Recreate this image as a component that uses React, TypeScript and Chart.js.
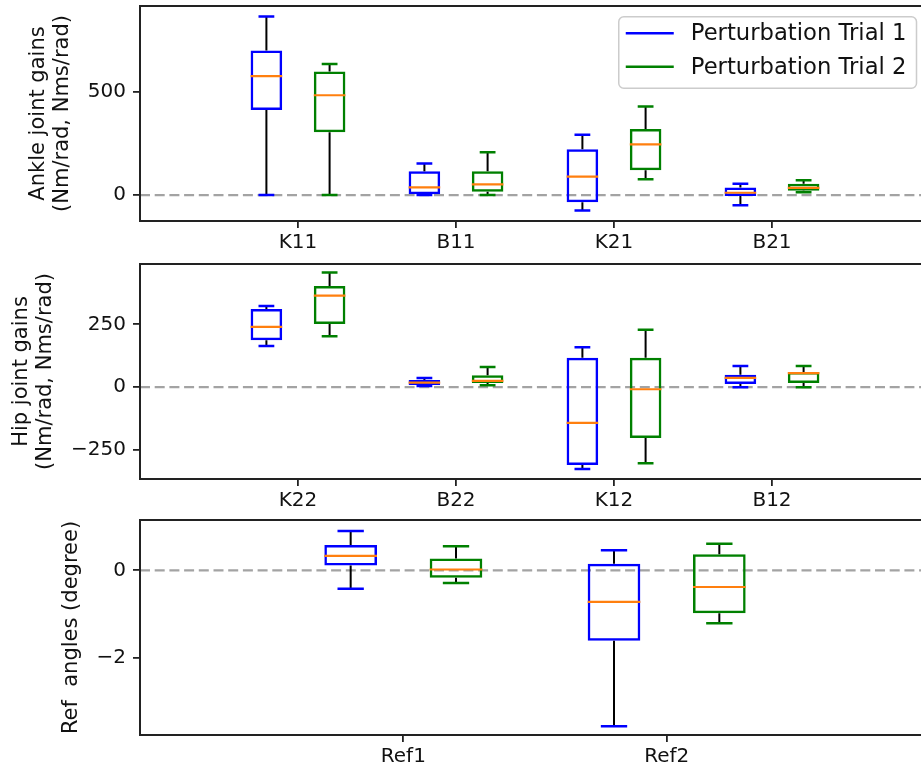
import React, { useEffect, useRef } from 'react';
import { Chart, registerables } from 'chart.js';

Chart.register(...registerables);

const FONT = '"DejaVu Sans", "Liberation Sans", sans-serif';

const seriesNames = ['Perturbation Trial 1', 'Perturbation Trial 2'];
const seriesColors = ['#0000ff', '#008000'];
const medianColor = '#ff7f0e';

// each box: [lower whisker, q1, median, q3, upper whisker]
const ankleCategories = ['K11', 'B11', 'K21', 'B21'];
const ankleTrial1 = [
  [0, 413, 577, 701, 866],
  [0, 0, 37, 115, 153],
  [-75, -35, 89, 222, 293],
  [-50, -5, 11, 37, 55],
];
const ankleTrial2 = [
  [0, 304, 484, 599, 636],
  [0, 16, 52, 115, 207],
  [76, 120, 246, 320, 429],
  [13, 21, 35, 55, 72],
];
const ankleTicks = [0, 500];
const ankleRange = [-126, 917];

const hipCategories = ['K22', 'B22', 'K12', 'B12'];
const hipTrial1 = [
  [164, 187, 240, 311, 323],
  [5, 9, 18, 29, 37],
  [-325, -309, -142, 117, 159],
  [0, 13, 37, 50, 84],
];
const hipTrial2 = [
  [203, 251, 364, 403, 456],
  [8, 17, 25, 48, 80],
  [-302, -202, -8, 117, 229],
  [0, 17, 56, 61, 84],
];
const hipTicks = [-250, 0, 250];
const hipRange = [-365, 490];

const refCategories = ['Ref1', 'Ref2'];
const refTrial1 = [
  [-0.42, 0.11, 0.33, 0.58, 0.9],
  [-3.56, -1.61, -0.72, 0.15, 0.46],
];
const refTrial2 = [
  [-0.29, -0.17, 0.02, 0.27, 0.55],
  [-1.21, -0.98, -0.38, 0.37, 0.61],
];
const refTicks = [-2, 0];
const refRange = [-3.76, 1.15];

const panels = [
  {
    key: 'ankle',
    categories: ankleCategories,
    trials: [ankleTrial1, ankleTrial2],
    ticks: ankleTicks,
    range: ankleRange,
    title: ['Ankle joint gains', '(Nm/rad, Nms/rad)'],
    top: 0,
    height: 255,
    padTop: 6,
    padLeft: 26,
    legend: true,
  },
  {
    key: 'hip',
    categories: hipCategories,
    trials: [hipTrial1, hipTrial2],
    ticks: hipTicks,
    range: hipRange,
    title: ['Hip joint gains', '(Nm/rad, Nms/rad)'],
    top: 255,
    height: 258,
    padTop: 9,
    padLeft: 9,
    legend: false,
  },
  {
    key: 'ref',
    categories: refCategories,
    trials: [refTrial1, refTrial2],
    ticks: refTicks,
    range: refRange,
    title: 'Ref  angles (degree)',
    top: 513,
    height: 256,
    padTop: 7,
    padLeft: 59,
    legend: false,
  },
];

const AXIS_LEFT = 140;
const CANVAS_W = 940;

const boxPlugin = {
  id: 'boxExtras',
  beforeDatasetsDraw(chart: any) {
    const { ctx, chartArea, scales } = chart;
    const y0 = scales.y.getPixelForValue(0);
    ctx.save();
    ctx.strokeStyle = '#a3a3a3';
    ctx.lineWidth = 2.2;
    ctx.setLineDash([10, 4.7]);
    ctx.beginPath();
    ctx.moveTo(chartArea.left, y0);
    ctx.lineTo(chartArea.right, y0);
    ctx.stroke();
    ctx.restore();
  },
  afterDatasetsDraw(chart: any) {
    const { ctx, scales } = chart;
    const ys = scales.y;
    chart.data.datasets.forEach((ds: any, i: number) => {
      const meta = chart.getDatasetMeta(i);
      meta.data.forEach((el: any, j: number) => {
        const s = ds.stats[j];
        if (!s) return;
        const { x, width } = el.getProps(['x', 'width'], true);
        const half = width / 2;
        const py = s.map((v: number) => ys.getPixelForValue(v));
        ctx.save();
        ctx.lineCap = 'butt';
        ctx.lineWidth = 2;
        ctx.strokeStyle = '#000';
        ctx.beginPath();
        ctx.moveTo(x, py[1]);
        ctx.lineTo(x, py[0]);
        ctx.moveTo(x, py[3]);
        ctx.lineTo(x, py[4]);
        ctx.stroke();
        ctx.lineWidth = 2.5;
        ctx.strokeStyle = ds.borderColor;
        ctx.beginPath();
        ctx.moveTo(x - half / 2, py[0]);
        ctx.lineTo(x + half / 2, py[0]);
        ctx.moveTo(x - half / 2, py[4]);
        ctx.lineTo(x + half / 2, py[4]);
        ctx.stroke();
        ctx.lineWidth = 2.2;
        ctx.strokeStyle = medianColor;
        ctx.beginPath();
        ctx.moveTo(x - half, py[2]);
        ctx.lineTo(x + half, py[2]);
        ctx.stroke();
        ctx.restore();
      });
    });
  },
  afterDraw(chart: any, _args: any, opts: any) {
    const { ctx, chartArea } = chart;
    ctx.save();
    ctx.strokeStyle = '#222';
    ctx.lineWidth = 2;
    ctx.strokeRect(chartArea.left, chartArea.top, chartArea.right - chartArea.left, chartArea.bottom - chartArea.top);
    ctx.restore();

    if (opts && opts.legend) {
      const fs = 22.7;
      ctx.save();
      ctx.font = `${fs}px ${FONT}`;
      const labels = chart.data.datasets.map((d: any) => d.label);
      const textW = Math.max(...labels.map((l: string) => ctx.measureText(l).width));
      const padL = 7;
      const handle = 48;
      const gap = 17;
      const padR = 10;
      const rowH = 33.4;
      const w = padL + handle + gap + textW + padR;
      const h = 71.6;
      const right = chartArea.right - 13.5;
      const left = right - w;
      const top = chartArea.top + 10.7;
      ctx.beginPath();
      ctx.roundRect(left, top, w, h, 5);
      ctx.fillStyle = 'rgba(255,255,255,0.8)';
      ctx.fill();
      ctx.strokeStyle = '#cccccc';
      ctx.lineWidth = 1.5;
      ctx.stroke();
      chart.data.datasets.forEach((d: any, i: number) => {
        const y = top + 16.6 + i * rowH;
        ctx.strokeStyle = d.borderColor;
        ctx.lineWidth = 2.5;
        ctx.beginPath();
        ctx.moveTo(left + padL, y);
        ctx.lineTo(left + padL + handle, y);
        ctx.stroke();
        ctx.fillStyle = '#111';
        ctx.textBaseline = 'middle';
        ctx.textAlign = 'left';
        ctx.fillText(d.label, left + padL + handle + gap, y + 1);
      });
      ctx.restore();
    }
  },
};

function buildConfig(p: any): any {
  const labels = ['', ...p.categories, ''];
  const gridOpts = {
    display: true,
    offset: false,
    drawOnChartArea: false,
    drawTicks: true,
    tickLength: 7,
    color: '#222',
    lineWidth: 1.8,
  };
  return {
    type: 'bar',
    data: {
      labels,
      datasets: p.trials.map((t: number[][], i: number) => ({
        label: seriesNames[i],
        data: [null, ...t.map((s) => [s[1], s[3]]), null],
        stats: [null, ...t, null],
        borderColor: seriesColors[i],
        backgroundColor: 'rgba(0,0,0,0)',
        borderWidth: 2.5,
        borderSkipped: false,
        categoryPercentage: 0.8,
        barPercentage: 0.5,
      })),
    },
    options: {
      responsive: false,
      animation: false,
      events: [],
      layout: { padding: { top: p.padTop, left: p.padLeft, right: 10, bottom: 0 } },
      plugins: {
        legend: { display: false },
        tooltip: { enabled: false },
        boxExtras: { legend: p.legend },
      },
      scales: {
        x: {
          type: 'category',
          offset: false,
          grid: gridOpts,
          border: { display: false },
          ticks: {
            autoSkip: false,
            maxRotation: 0,
            minRotation: 0,
            padding: 3,
            color: '#111',
            font: { family: FONT, size: 20, lineHeight: 1.2 },
          },
          afterBuildTicks: (s: any) => {
            s.ticks = s.ticks.filter((t: any) => t.value > 0 && t.value < labels.length - 1);
          },
          afterFit: (s: any) => {
            s.height = 34;
            s.paddingLeft = 0;
            s.paddingRight = 0;
          },
        },
        y: {
          type: 'linear',
          min: p.range[0],
          max: p.range[1],
          grid: gridOpts,
          border: { display: false },
          ticks: {
            padding: 7,
            color: '#111',
            font: { family: FONT, size: 20, lineHeight: 1.2 },
            callback: (v: number) => String(v).replace('-', '\u2212'),
          },
          afterBuildTicks: (s: any) => {
            s.ticks = p.ticks.map((v: number) => ({ value: v }));
          },
          afterFit: (s: any) => {
            s.width = AXIS_LEFT - p.padLeft;
            s.paddingTop = 0;
            s.paddingBottom = 0;
          },
          title: {
            display: true,
            text: p.title,
            color: '#111',
            padding: 0,
            font: { family: FONT, size: 21, lineHeight: 1.15 },
          },
        },
      },
    },
    plugins: [boxPlugin],
  };
}

function BoxPanel({ p }: { p: any }) {
  const ref = useRef<HTMLCanvasElement>(null);
  useEffect(() => {
    const chart = new Chart(ref.current as HTMLCanvasElement, buildConfig(p));
    return () => chart.destroy();
  }, [p]);
  return (
    <canvas
      ref={ref}
      width={CANVAS_W}
      height={p.height}
      style={{ position: 'absolute', left: 0, top: p.top, display: 'block', width: CANVAS_W, height: p.height }}
    />
  );
}

export default function App() {
  return (
    <div
      style={{
        position: 'absolute',
        left: 0,
        top: 0,
        width: 921,
        height: 771,
        overflow: 'hidden',
        background: '#fff',
      }}
    >
      {panels.map((p) => (
        <BoxPanel key={p.key} p={p} />
      ))}
    </div>
  );
}
